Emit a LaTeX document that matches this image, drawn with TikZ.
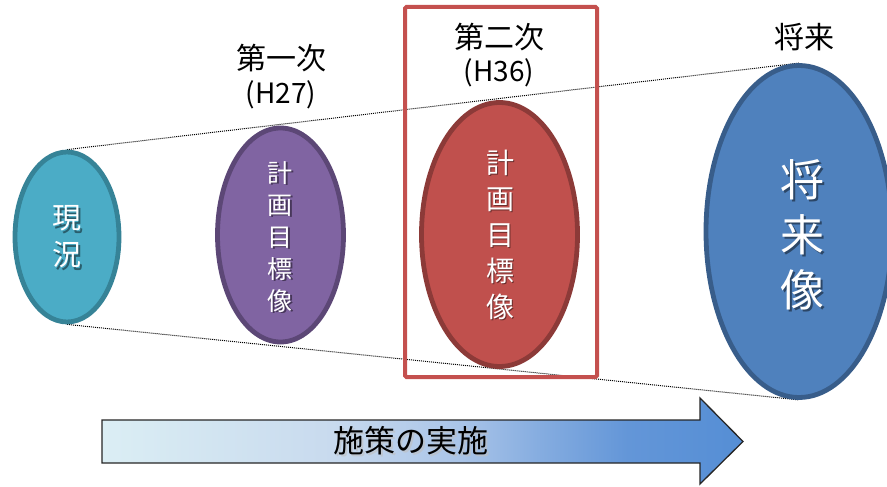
\documentclass[tikz,border=0pt]{standalone}
\usepackage{fontspec}
\setmainfont{Noto Sans CJK JP}
\usetikzlibrary{shapes.geometric,backgrounds}
\definecolor{tealF}{HTML}{4BACC6}
\definecolor{tealD}{HTML}{368397}
\definecolor{purF}{HTML}{8064A2}
\definecolor{purD}{HTML}{5C4776}
\definecolor{redF}{HTML}{C0504D}
\definecolor{redD}{HTML}{8C3A38}
\definecolor{bluF}{HTML}{4F81BD}
\definecolor{bluD}{HTML}{385D8A}
\definecolor{rectC}{HTML}{C4504E}
\definecolor{arrL}{HTML}{DBEEF4}
\definecolor{arrM}{HTML}{C8DAEE}
\definecolor{arrN}{HTML}{A9C4E8}
\definecolor{arrO}{HTML}{86ADE0}
\definecolor{arrP}{HTML}{6396D8}
\definecolor{arrR}{HTML}{558ED5}
% the path is mapped onto 25bp..75bp of the shading
\pgfdeclarehorizontalshading{arrowshade}{100bp}{color(0bp)=(arrL); color(25bp)=(arrL); color(43bp)=(arrM); color(53bp)=(arrN); color(59bp)=(arrO); color(66bp)=(arrP); color(75bp)=(arrR); color(100bp)=(arrR)}
\tikzset{
  oval/.style={ellipse, inner sep=0pt, line width=4.8pt},
  intext/.style={text=white, align=center, inner sep=0pt},
  inshadow/.style={text=black, opacity=0.45, align=center, inner sep=0pt},
  label/.style={text=black, inner sep=0pt, font=\fontsize{30}{30}\selectfont},
  sublabel/.style={text=black, inner sep=0pt, font=\fontsize{28}{28}\selectfont},
  guide/.style={dash pattern=on 1pt off 1pt, line width=1pt, black}
}
\begin{document}
\begin{tikzpicture}[x=1pt,y=-1pt]
\useasboundingbox (0,0) rectangle (887,487);
% frame around second stage
\node[draw=rectC, line width=4pt, rounded corners=1.5pt, minimum width=192pt, minimum height=370pt, inner sep=0pt] (frame) at (501,192) {};
% ellipses
\node[oval, fill=tealF, draw=tealD, minimum width=104pt, minimum height=170pt] (now) at (67,237) {};
\node[oval, fill=purF, draw=purD, minimum width=126pt, minimum height=214pt] (first) at (280.5,235) {};
\node[oval, fill=redF, draw=redD, minimum width=156pt, minimum height=264pt] (second) at (499.5,234.5) {};
\node[oval, fill=bluF, draw=bluD, minimum width=186pt, minimum height=332pt] (future) at (799,231.5) {};
% dotted guide lines
\begin{scope}[on background layer]
\draw[guide] (now.north) -- (future.north);
\draw[guide] (now.south) -- (future.south);
\end{scope}
% texts in ellipses (with soft shadow)
\node[inshadow, font=\fontsize{29}{37}\selectfont] (nowS) at (68.5,239.5) {現\\況};
\node[intext, font=\fontsize{29}{37}\selectfont] (nowT) at (now) {現\\況};
\node[inshadow, font=\fontsize{25}{32}\selectfont] (firstS) at (281.5,238.5) {計\\画\\目\\標\\像};
\node[intext, font=\fontsize{25}{32}\selectfont] (firstT) at (280,237) {計\\画\\目\\標\\像};
\node[inshadow, font=\fontsize{28}{36}\selectfont] (secondS) at (501.5,236) {計\\画\\目\\標\\像};
\node[intext, font=\fontsize{28}{36}\selectfont] (secondT) at (500,234.5) {計\\画\\目\\標\\像};
\node[inshadow, font=\fontsize{44}{55}\selectfont] (futureS) at (804,237) {将\\来\\像};
\node[intext, font=\fontsize{44}{55}\selectfont] (futureT) at (802,235) {将\\来\\像};
% labels
\node[label] (l1) at (281,58) {第一次};
\node[sublabel] (l1b) at (281,95) {(H27)};
\node[label] (l2) at (499,37) {第二次};
\node[sublabel] (l2b) at (499,73) {(H36)};
\node[label] (l3) at (804,37) {将来};
% progress arrow
\coordinate (a1) at (102,420);
\coordinate (a2) at (700,420);
\coordinate (a3) at (700,398);
\coordinate (a4) at (743,441.5);
\coordinate (a5) at (700,484);
\coordinate (a6) at (700,463);
\coordinate (a7) at (102,463);
\draw[shading=arrowshade, line width=1.3pt, draw=black!85, line join=miter] (a1) -- (a2) -- (a3) -- (a4) -- (a5) -- (a6) -- (a7) -- cycle;
\node[text=black!25, opacity=0.6, inner sep=0pt, font=\fontsize{31}{31}\selectfont] (arrS) at (412.5,442.5) {施策の実施};
\node[text=black, inner sep=0pt, font=\fontsize{31}{31}\selectfont] (arrT) at (411,441) {施策の実施};
\end{tikzpicture}
\end{document}
